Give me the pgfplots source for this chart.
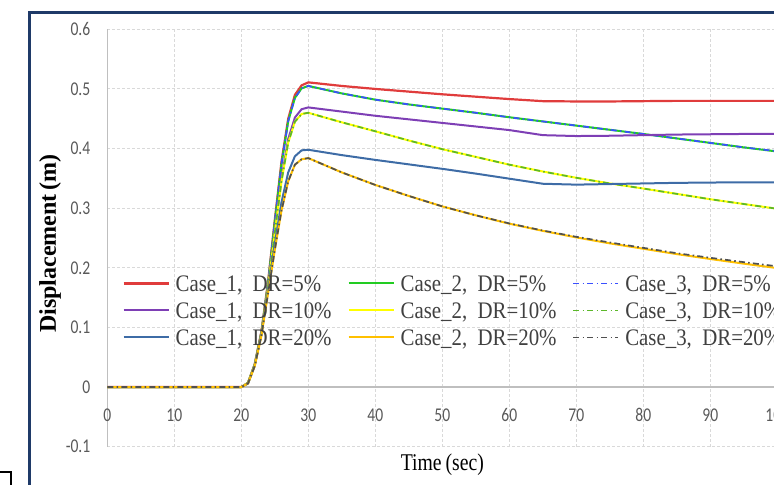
\documentclass[border=0pt]{standalone}
\usepackage{fontspec}
\setmainfont{Liberation Serif}
\newfontfamily\tickfont[FakeStretch=0.8]{Carlito}
\newfontfamily\legfont[FakeStretch=0.88]{Liberation Serif}
\newfontfamily\labfont[FakeStretch=0.82]{Liberation Serif}
\usepackage{pgfplots}
\usepackage{pgfplotstable}
\pgfplotsset{compat=1.18}

\definecolor{cred}{HTML}{E03C3C}
\definecolor{cpur}{HTML}{7E3FB5}
\definecolor{cstl}{HTML}{3E6CA6}
\definecolor{cgrn}{HTML}{22CC22}
\definecolor{cyel}{HTML}{FFFF00}
\definecolor{corg}{HTML}{FFC000}
\definecolor{cblu}{HTML}{3A50FF}
\definecolor{cgdd}{HTML}{5CB82A}
\definecolor{cgry}{HTML}{505050}
\definecolor{framecol}{HTML}{1F3A68}
\definecolor{gridcol}{HTML}{D9D9D9}
\definecolor{axcol}{HTML}{BFBFBF}
\definecolor{tickcol}{HTML}{595959}
\definecolor{legcol}{HTML}{404040}

% DR = 5%
\pgfplotstableread{
t c1 c2 c3
0 0 0 0
20 0 0 0
21 0.007 0.007 0.007
22 0.038 0.038 0.038
23 0.093 0.092 0.092
24 0.177 0.175 0.175
25 0.280 0.277 0.277
26 0.378 0.374 0.374
27 0.450 0.446 0.446
28 0.490 0.485 0.485
29 0.506 0.501 0.501
30 0.511 0.505 0.505
35 0.505 0.4925 0.4925
40 0.500 0.482 0.482
45 0.4955 0.474 0.474
50 0.491 0.467 0.467
55 0.487 0.460 0.460
60 0.483 0.4525 0.4525
65 0.4795 0.4455 0.4455
70 0.479 0.4385 0.4385
75 0.479 0.4315 0.4315
80 0.4795 0.4245 0.4245
85 0.480 0.417 0.417
90 0.480 0.4095 0.4095
95 0.480 0.402 0.402
100 0.480 0.395 0.3955
}\tabA

% DR = 10%
\pgfplotstableread{
t c1 c2 c3
0 0 0 0
20 0 0 0
21 0.007 0.007 0.007
22 0.037 0.037 0.037
23 0.090 0.089 0.089
24 0.170 0.168 0.168
25 0.262 0.259 0.259
26 0.350 0.345 0.345
27 0.416 0.410 0.410
28 0.452 0.445 0.445
29 0.466 0.458 0.458
30 0.469 0.460 0.460
35 0.462 0.444 0.444
40 0.455 0.429 0.429
45 0.449 0.4135 0.4135
50 0.443 0.399 0.399
55 0.437 0.386 0.386
60 0.431 0.373 0.373
65 0.4225 0.3615 0.3615
70 0.421 0.351 0.351
75 0.4215 0.3415 0.3415
80 0.4225 0.333 0.333
85 0.4235 0.324 0.324
90 0.424 0.315 0.315
95 0.4245 0.307 0.307
100 0.4245 0.299 0.299
}\tabB

% DR = 20%
\pgfplotstableread{
t c1 c2 c3
0 0 0 0
20 0 0 0
21 0.006 0.006 0.006
22 0.036 0.035 0.035
23 0.088 0.086 0.086
24 0.163 0.158 0.158
25 0.240 0.230 0.230
26 0.310 0.296 0.296
27 0.360 0.345 0.345
28 0.387 0.373 0.373
29 0.397 0.382 0.382
30 0.398 0.384 0.384
35 0.389 0.360 0.360
40 0.381 0.339 0.339
45 0.3735 0.3205 0.3205
50 0.366 0.303 0.303
55 0.358 0.288 0.288
60 0.3495 0.274 0.2745
65 0.341 0.262 0.2625
70 0.3395 0.251 0.252
75 0.3405 0.241 0.2425
80 0.3415 0.232 0.2335
85 0.3425 0.223 0.2245
90 0.343 0.2148 0.2168
95 0.3435 0.207 0.2095
100 0.3435 0.1995 0.2025
}\tabC

\pgfplotsset{
  ddot/.style={line width=0.85pt, dash pattern=on 3pt off 1.6pt on 0.8pt off 1.6pt},
  sol/.style={line width=1pt},
}

\begin{document}
\begin{tikzpicture}
\useasboundingbox (0pt,0pt) rectangle (387pt,242pt);
\clip (0pt,0pt) rectangle (387pt,242pt);
\draw[line width=1.1pt, color=framecol] (14.75pt,-5pt) -- (14.75pt,235.75pt) -- (400pt,235.75pt);
\draw[line width=1pt, black] (-3pt,6pt) -- (5.25pt,6pt) -- (5.25pt,-3pt);
\begin{axis}[
  at={(53.65pt,18.65pt)}, anchor=south west,
  scale only axis, width=335pt, height=208.7pt,
  xmin=0, xmax=100, ymin=-0.1, ymax=0.6,
  axis x line*=middle, axis y line*=left,
  hide obscured x ticks=false, hide obscured y ticks=false,
  axis line style={color=axcol, line width=0.6pt},
  xtick={0,10,20,30,40,50,60,70,80,90,100},
  ytick={-0.1,0,0.1,0.2,0.3,0.4,0.5,0.6},
  grid=major,
  major grid style={dash pattern=on 1.5pt off 1pt, color=gridcol, line width=0.5pt},
  major tick length=0pt,
  tick label style={font=\tickfont\fontsize{9.75}{11}\selectfont, color=tickcol},
  yticklabel style={anchor=east, inner sep=0pt, xshift=-8.3pt},
  xticklabel style={anchor=center, inner sep=0pt, yshift=-14pt},
  /pgf/number format/fixed, /pgf/number format/precision=1,
  /pgf/number format/assume math mode=true,
  xlabel={Time\,(sec)},
  xlabel style={at={(axis description cs:0.5,-0.0438)}, anchor=center, inner sep=0pt,
    font=\labfont\fontsize{12}{14}\selectfont},
  ylabel={Displacement\,(m)},
  ylabel style={at={(axis description cs:-0.0855,0.487)}, anchor=center, inner sep=0pt,
    font=\bfseries\fontsize{12}{14}\selectfont},
  no markers,
  legend columns=3,
  legend cell align=left,
  legend style={at={(axis description cs:0.02194,0.4245)}, anchor=north west,
    draw=none, fill=none, inner sep=0pt, column sep=0pt, row sep=0pt,
    nodes={inner sep=0pt, text height=10.65pt, text depth=2.85pt,
      font=\legfont\fontsize{11.85}{13}\selectfont, text=legcol}},
  legend image code/.code={\draw[#1] (0pt,0pt) -- (22.5pt,0pt);},
]
\addplot[sol, cred, line width=1.1pt] table[x=t,y=c1]{\tabA};
\addlegendentry{\makebox[89pt][l]{\hspace*{3pt}Case\_1,\ \ DR=5\%}}
\addplot[sol, cgrn] table[x=t,y=c2]{\tabA};
\addlegendentry{\makebox[89pt][l]{\hspace*{3pt}Case\_2,\ \ DR=5\%}}
\addplot[ddot, cblu] table[x=t,y=c3]{\tabA};
\addlegendentry{\makebox[89pt][l]{\hspace*{3pt}Case\_3,\ \ DR=5\%}}
\addplot[sol, cpur] table[x=t,y=c1]{\tabB};
\addlegendentry{\makebox[89pt][l]{\hspace*{3pt}Case\_1,\ \ DR=10\%}}
\addplot[sol, cyel] table[x=t,y=c2]{\tabB};
\addlegendentry{\makebox[89pt][l]{\hspace*{3pt}Case\_2,\ \ DR=10\%}}
\addplot[ddot, cgdd] table[x=t,y=c3]{\tabB};
\addlegendentry{\makebox[89pt][l]{\hspace*{3pt}Case\_3,\ \ DR=10\%}}
\addplot[sol, cstl] table[x=t,y=c1]{\tabC};
\addlegendentry{\makebox[89pt][l]{\hspace*{3pt}Case\_1,\ \ DR=20\%}}
\addplot[sol, corg] table[x=t,y=c2]{\tabC};
\addlegendentry{\makebox[89pt][l]{\hspace*{3pt}Case\_2,\ \ DR=20\%}}
\addplot[ddot, cgry] table[x=t,y=c3]{\tabC};
\addlegendentry{\makebox[89pt][l]{\hspace*{3pt}Case\_3,\ \ DR=20\%}}
\end{axis}
\end{tikzpicture}
\end{document}
